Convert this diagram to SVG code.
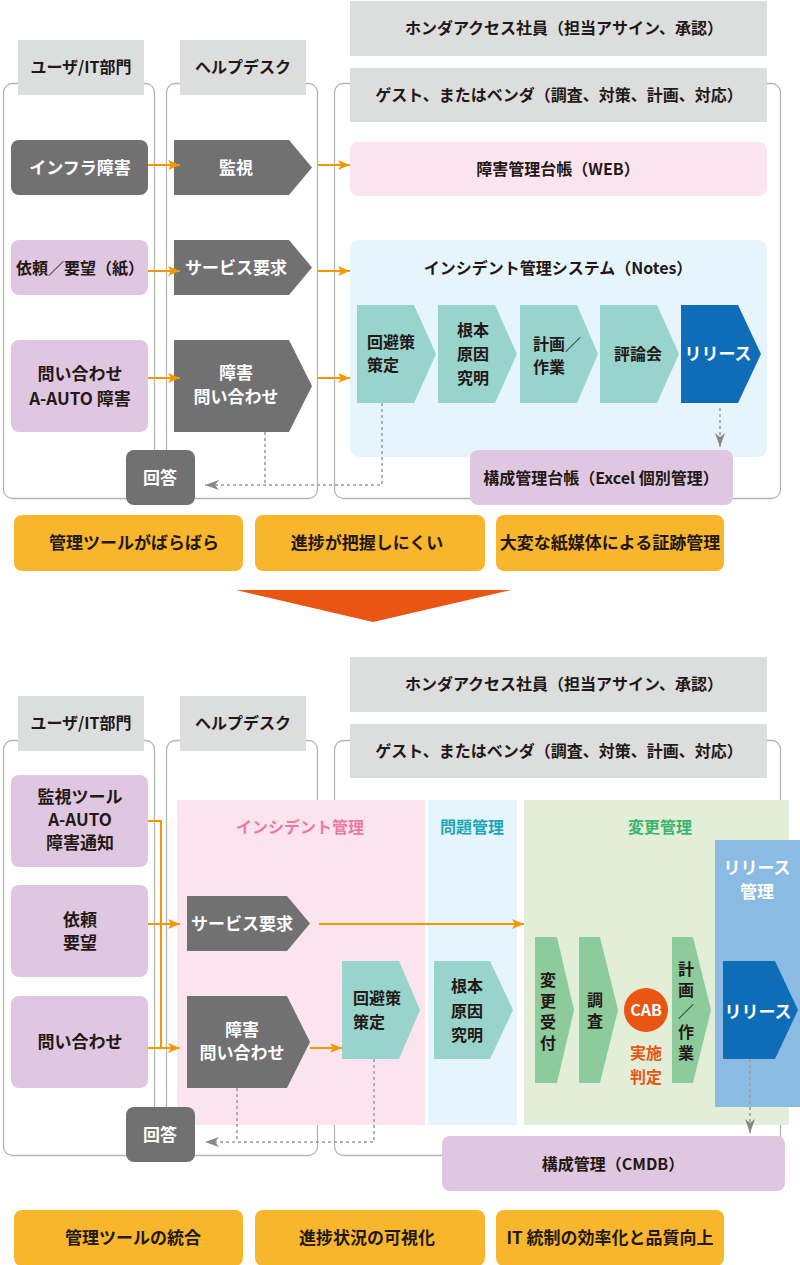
<svg xmlns="http://www.w3.org/2000/svg" width="800" height="1265" viewBox="0 0 800 1265">
<defs>
<style>
text{font-family:"Noto Sans CJK JP","Noto Sans",sans-serif;font-weight:700;text-anchor:middle;}
.t16{font-size:16px;fill:#231815;}
.t17{font-size:17px;fill:#231815;}
.w17{font-size:17px;fill:#ffffff;}
.vt{font-size:16px;fill:#231815;writing-mode:vertical-rl;letter-spacing:5px;}
.hdr{fill:#dcdddd;}
.lane{fill:none;stroke:#b4b4b4;stroke-width:1.3;}
.dark{fill:#727171;}
.lav{fill:#dfc7e1;}
.teal{fill:#98d3cc;}
.blue{fill:#0f6db7;}
.gch{fill:#8dcb9c;}
.org{fill:#f8b62d;}
.oline{fill:none;stroke:#f39800;stroke-width:2;}
.dline{fill:none;stroke:#999999;stroke-width:1.5;stroke-dasharray:3 3;}
.l{text-anchor:start;}
</style>
<marker id="oa" viewBox="0 0 12 10" refX="12" refY="5" markerWidth="12" markerHeight="10" markerUnits="userSpaceOnUse" orient="auto">
<path d="M0 0 L12 5 L0 10 L3 5 Z" fill="#f39800"/>
</marker>
<marker id="ga" viewBox="0 0 14 10" refX="14" refY="5" markerWidth="14" markerHeight="10" markerUnits="userSpaceOnUse" orient="auto">
<path d="M0 0 L14 5 L0 10 L4 5 Z" fill="#888888"/>
</marker>
</defs>
<rect width="800" height="1265" fill="#ffffff"/>

<!-- ================= TOP (current) ================= -->
<g id="lanes-top">
<rect class="lane" x="3.5" y="83.5" width="151" height="415" rx="9"/>
<rect class="lane" x="166.5" y="83.5" width="151" height="415" rx="9"/>
<rect class="lane" x="334.5" y="83.5" width="446" height="415" rx="9"/>
</g>
<g id="hdr-user-top"><rect class="hdr" x="18" y="40" width="126" height="55"/><text class="t16" x="81" y="73">ユーザ/IT部門</text></g>
<g id="hdr-help-top"><rect class="hdr" x="180" y="40" width="126" height="55"/><text class="t16" x="243" y="73">ヘルプデスク</text></g>
<g id="hdr-honda-top"><rect class="hdr" x="350" y="1" width="417" height="55"/><text class="t16" x="564" y="34">ホンダアクセス社員（担当アサイン、承認）</text></g>
<g id="hdr-guest-top"><rect class="hdr" x="350" y="68" width="417" height="54"/><text class="t16" x="559" y="101">ゲスト、またはベンダ（調査、対策、計画、対応）</text></g>

<g id="n-infra"><rect class="dark" x="11" y="140" width="137" height="55" rx="8"/><text class="w17" x="80" y="174">インフラ障害</text></g>
<g id="n-kanshi"><path class="dark" d="M174 140 H289 L312 167.5 L289 195 H174 Z"/><text class="w17" x="236" y="174">監視</text></g>
<g id="n-webdb"><rect x="350" y="142" width="417" height="54" rx="8" fill="#fce4ef"/><text class="t16" x="558" y="175">障害管理台帳（WEB）</text></g>

<g id="n-irai-top"><rect class="lav" x="11" y="240" width="137" height="55" rx="8"/><text class="t16" x="80" y="274">依頼／要望（紙）</text></g>
<g id="n-service-top"><path class="dark" d="M174 240 H289 L312 267.5 L289 295 H174 Z"/><text class="w17" x="236" y="274">サービス要求</text></g>

<g id="n-toiawase-top"><rect class="lav" x="11" y="340" width="137" height="92" rx="8"/><text class="t17"><tspan x="80" y="380">問い合わせ</tspan><tspan x="80" y="405">A-AUTO 障害</tspan></text></g>
<g id="n-shogai-top"><path class="dark" d="M174 340 H289 L312 386 L289 432 H174 Z"/><text class="w17"><tspan x="236" y="379">障害</tspan><tspan x="236" y="403">問い合わせ</tspan></text></g>

<g id="n-notes">
<rect x="350" y="240" width="417" height="217" rx="9" fill="#e6f4fb"/>
<text class="t16" x="558" y="274">インシデント管理システム（Notes）</text>
</g>
<g id="c-kaihi-top"><path class="teal" d="M357 305 H414 L436 354 L414 403 H357 Z"/><text class="t16 l"><tspan x="367" y="348">回避策</tspan><tspan x="367" y="371">策定</tspan></text></g>
<g id="c-konpon-top"><path class="teal" d="M438 305 H495 L517 354 L495 403 H438 Z"/><text class="t16"><tspan x="473" y="336">根本</tspan><tspan x="473" y="360">原因</tspan><tspan x="473" y="384">究明</tspan></text></g>
<g id="c-keikaku-top"><path class="teal" d="M520 305 H577 L598 354 L577 403 H520 Z"/><text class="t16 l"><tspan x="533" y="350">計画／</tspan><tspan x="533" y="373">作業</tspan></text></g>
<g id="c-hyoron-top"><path class="teal" d="M600 305 H657 L679 354 L657 403 H600 Z"/><text class="t16" x="638" y="360">評論会</text></g>
<g id="c-release-top"><path class="blue" d="M681 305 H738 L761 354 L738 403 H681 Z"/><text class="w17" x="718" y="360">リリース</text></g>

<g id="n-excel"><rect class="lav" x="470" y="450" width="263" height="55" rx="8"/><text class="t16" x="601" y="484">構成管理台帳（Excel 個別管理）</text></g>
<g id="n-kaito-top"><rect class="dark" x="126" y="450" width="69" height="55" rx="8"/><text class="w17" x="160" y="484">回答</text></g>

<g id="edges-top">
<line class="oline" x1="148" y1="165" x2="180" y2="165" marker-end="url(#oa)"/>
<line class="oline" x1="318" y1="165" x2="350" y2="165" marker-end="url(#oa)"/>
<line class="oline" x1="148" y1="271" x2="180" y2="271" marker-end="url(#oa)"/>
<line class="oline" x1="318" y1="271" x2="350" y2="271" marker-end="url(#oa)"/>
<line class="oline" x1="148" y1="378" x2="180" y2="378" marker-end="url(#oa)"/>
<line class="oline" x1="318" y1="378" x2="350" y2="378" marker-end="url(#oa)"/>
<line class="dline" x1="720" y1="408" x2="720" y2="447" marker-end="url(#ga)"/>
<line class="dline" x1="265" y1="432" x2="265" y2="485"/>
<polyline class="dline" points="382,403 382,485 205,485" marker-end="url(#ga)"/>
</g>

<g id="issue-1"><rect class="org" x="14" y="515" width="229" height="56" rx="8"/><text class="t17" x="134" y="549">管理ツールがばらばら</text></g>
<g id="issue-2"><rect class="org" x="255" y="515" width="230" height="56" rx="8"/><text class="t17" x="367" y="549">進捗が把握しにくい</text></g>
<g id="issue-3"><rect class="org" x="496" y="515" width="228" height="56" rx="8"/><text class="t17" x="610" y="549">大変な紙媒体による証跡管理</text></g>

<g id="big-arrow"><path d="M236 590 H511 L373 622 Z" fill="#e95513"/></g>

<!-- ================= BOTTOM (future) ================= -->
<g id="lanes-bottom">
<rect class="lane" x="3.5" y="740.5" width="151" height="415" rx="9"/>
<rect class="lane" x="166.5" y="740.5" width="151" height="415" rx="9"/>
<rect class="lane" x="334.5" y="740.5" width="446" height="415" rx="9"/>
</g>
<g id="hdr-user-bot"><rect class="hdr" x="18" y="696" width="126" height="55"/><text class="t16" x="81" y="729">ユーザ/IT部門</text></g>
<g id="hdr-help-bot"><rect class="hdr" x="180" y="696" width="126" height="55"/><text class="t16" x="243" y="729">ヘルプデスク</text></g>
<g id="hdr-honda-bot"><rect class="hdr" x="350" y="657" width="417" height="55"/><text class="t16" x="564" y="690">ホンダアクセス社員（担当アサイン、承認）</text></g>
<g id="hdr-guest-bot"><rect class="hdr" x="350" y="724" width="417" height="54"/><text class="t16" x="559" y="757">ゲスト、またはベンダ（調査、対策、計画、対応）</text></g>

<g id="area-incident"><rect x="177" y="800" width="248" height="325" fill="#fce4ef"/><text x="300" y="833" style="font-size:16px;fill:#ec7aa0">インシデント管理</text></g>
<g id="area-problem"><rect x="428" y="800" width="89" height="325" fill="#e6f4fb"/><text x="472" y="833" style="font-size:16px;fill:#1aa8b8">問題管理</text></g>
<g id="area-change"><rect x="524" y="800" width="265" height="325" fill="#e2eed7"/><text x="660" y="833" style="font-size:16px;fill:#3db46d">変更管理</text></g>
<g id="area-release"><rect x="715" y="840" width="85" height="267" fill="#8bbbe3"/><text class="w17"><tspan x="757" y="874">リリース</tspan><tspan x="757" y="898">管理</tspan></text></g>

<g id="n-kanshi-bot"><rect class="lav" x="11" y="775" width="137" height="92" rx="8"/><text class="t17"><tspan x="80" y="803">監視ツール</tspan><tspan x="80" y="826">A-AUTO</tspan><tspan x="80" y="849">障害通知</tspan></text></g>
<g id="n-irai-bot"><rect class="lav" x="11" y="885" width="137" height="92" rx="8"/><text class="t17"><tspan x="80" y="926">依頼</tspan><tspan x="80" y="949">要望</tspan></text></g>
<g id="n-toiawase-bot"><rect class="lav" x="11" y="996" width="137" height="92" rx="8"/><text class="t17" x="80" y="1048">問い合わせ</text></g>

<g id="n-service-bot"><path class="dark" d="M187 896 H287 L310 923.5 L287 951 H187 Z"/><text class="w17" x="242" y="930">サービス要求</text></g>
<g id="n-shogai-bot"><path class="dark" d="M187 996 H287 L310 1042 L287 1088 H187 Z"/><text class="w17"><tspan x="242" y="1036">障害</tspan><tspan x="242" y="1059">問い合わせ</tspan></text></g>
<g id="c-kaihi-bot"><path class="teal" d="M342 961 H399 L420 1010 L399 1059 H342 Z"/><text class="t16 l"><tspan x="353" y="1004">回避策</tspan><tspan x="353" y="1028">策定</tspan></text></g>
<g id="c-konpon-bot"><path class="teal" d="M434 961 H490 L513 1010 L490 1059 H434 Z"/><text class="t16"><tspan x="467" y="992">根本</tspan><tspan x="467" y="1017">原因</tspan><tspan x="467" y="1041">究明</tspan></text></g>
<g id="c-uketsuke"><path class="gch" d="M535 937 H557 L574 1010 L557 1083 H535 Z"/><text class="vt" x="548" y="1014">変更受付</text></g>
<g id="c-chosa"><path class="gch" d="M579 937 H600 L618 1010 L600 1083 H579 Z"/><text class="vt" x="595" y="1013">調査</text></g>
<g id="n-cab"><circle cx="646" cy="1010" r="22" fill="#e95513"/><text x="646" y="1016" style="font-size:16px;fill:#ffffff">CAB</text><text style="font-size:16px;fill:#e95513"><tspan x="646" y="1059">実施</tspan><tspan x="646" y="1083">判定</tspan></text></g>
<g id="c-keikaku-bot"><path class="gch" d="M672 937 H693 L711 1010 L693 1083 H672 Z"/><text class="vt" x="686" y="1013">計画／作業</text></g>
<g id="c-release-bot"><path class="blue" d="M723 961 H775 L798 1010 L775 1059 H723 Z"/><text class="w17" x="758" y="1018">リリース</text></g>

<g id="n-cmdb"><rect class="lav" x="442" y="1136" width="343" height="55" rx="8"/><text class="t16" x="613" y="1170">構成管理（CMDB）</text></g>
<g id="n-kaito-bot"><rect class="dark" x="126" y="1107" width="69" height="55" rx="8"/><text class="w17" x="160" y="1141">回答</text></g>

<g id="edges-bottom">
<polyline class="oline" points="148,821 161,821 161,1048"/>
<line class="oline" x1="148" y1="924" x2="180" y2="924" marker-end="url(#oa)"/>
<line class="oline" x1="148" y1="1048" x2="180" y2="1048" marker-end="url(#oa)"/>
<line class="oline" x1="319" y1="924" x2="524" y2="924" marker-end="url(#oa)"/>
<line class="oline" x1="310" y1="1048" x2="342" y2="1048" marker-end="url(#oa)"/>
<line class="dline" x1="750" y1="1059" x2="750" y2="1133" marker-end="url(#ga)"/>
<line class="dline" x1="237" y1="1088" x2="237" y2="1142"/>
<polyline class="dline" points="374,1059 374,1142 205,1142" marker-end="url(#ga)"/>
</g>

<g id="goal-1"><rect class="org" x="14" y="1210" width="229" height="56" rx="8"/><text class="t17" x="133" y="1244">管理ツールの統合</text></g>
<g id="goal-2"><rect class="org" x="255" y="1210" width="230" height="56" rx="8"/><text class="t17" x="367" y="1244">進捗状況の可視化</text></g>
<g id="goal-3"><rect class="org" x="496" y="1210" width="228" height="56" rx="8"/><text class="t17" x="610" y="1244">IT 統制の効率化と品質向上</text></g>
</svg>
